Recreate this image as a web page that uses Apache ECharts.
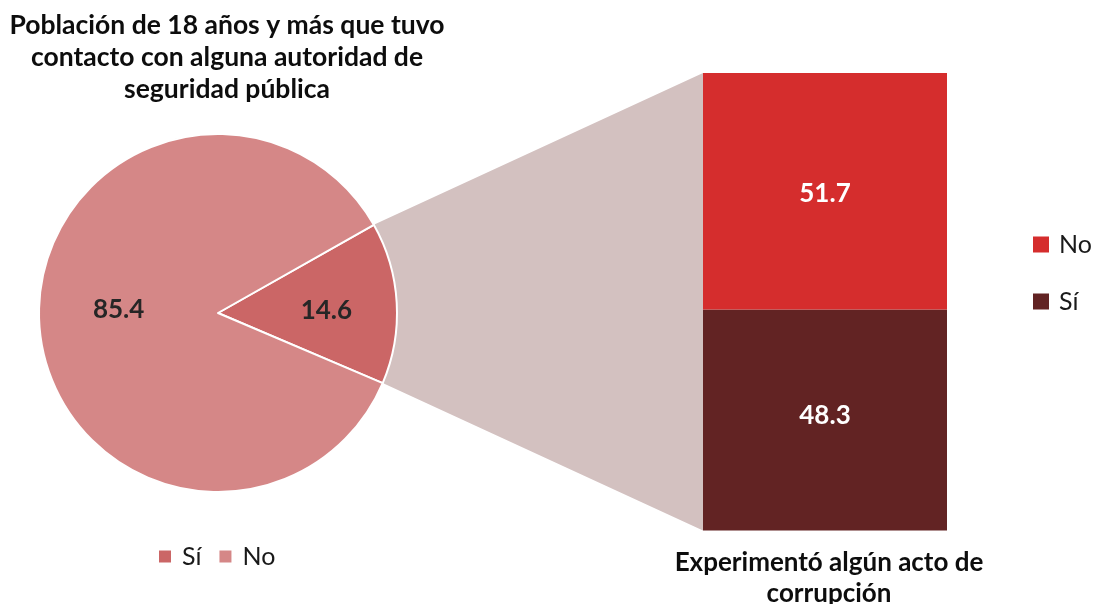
<!DOCTYPE html>
<html>
<head>
<meta charset="utf-8">
<script src="https://cdn.jsdelivr.net/npm/echarts@6/dist/echarts.min.js"></script>
<style>html,body{margin:0;padding:0;background:#fff}#c{width:1096px;height:604px}</style>
</head>
<body>
<div id="c"></div>
<script>
// Pie: población de 18 años y más que tuvo contacto con alguna autoridad
const pieNames = ['Sí', 'No'];
const pieValues = [14.6, 85.4];
// Bar: experimentó algún acto de corrupción (stack bottom to top)
const barNames = ['Sí', 'No'];
const barValues = [48.3, 51.7];
const barCategory = ['Experimentó'];

const pieColors = ['#CB6666', '#D58787'];
const barColors = ['#622323', '#D52D2D'];
const barLabelOffsets = [[0, -4], [0, 2]];
const FONT = 'Lato';

const chart = echarts.init(document.getElementById('c'), null, {renderer: 'canvas'});

const option = {
  animation: false,
  backgroundColor: '#fff',
  title: [
    {
      text: 'Población de 18 años y más que tuvo\ncontacto con alguna autoridad de\nseguridad pública',
      left: 227, top: 9, textAlign: 'center', padding: 0,
      textStyle: {fontFamily: FONT, fontWeight: 'bold', fontSize: 26.5, lineHeight: 32, color: '#0d0d0d'}
    },
    {
      text: 'Experimentó algún acto de\ncorrupción',
      left: 829, top: 547, textAlign: 'center', padding: 0,
      textStyle: {fontFamily: FONT, fontWeight: 'bold', fontSize: 26, lineHeight: 31, color: '#0d0d0d'}
    }
  ],
  legend: [
    {
      data: pieNames,
      left: 157, top: 544, padding: 0,
      orient: 'horizontal',
      icon: 'rect', itemWidth: 14, itemHeight: 14, itemGap: 16,
      selectedMode: false,
      textStyle: {fontFamily: FONT, fontSize: 25, color: '#1a1a1a', padding: [0, 0, 0, 5]}
    },
    {
      data: barNames.map(n => 'corr_' + n).reverse(),
      formatter: n => n.replace('corr_', ''),
      left: 1033, top: 232, padding: 0,
      orient: 'vertical',
      icon: 'rect', itemWidth: 16, itemHeight: 16, itemGap: 32,
      selectedMode: false,
      textStyle: {fontFamily: FONT, fontSize: 25, color: '#1a1a1a', padding: [0, 0, 0, 5]}
    }
  ],
  grid: {left: 703, right: 149, top: 73, bottom: 73.5, containLabel: false},
  xAxis: {type: 'category', data: barCategory, show: false},
  yAxis: {type: 'value', min: 0, max: 100, show: false},
  series: [
    {
      type: 'pie',
      name: 'contacto',
      center: [218, 313],
      radius: 179,
      startAngle: 29.5,
      clockwise: true,
      z: 3,
      data: pieNames.map((n, i) => ({name: n, value: pieValues[i], itemStyle: {color: pieColors[i]}})),
      itemStyle: {borderColor: '#fff', borderWidth: 2},
      label: {
        show: true, position: 'inner',
        formatter: p => p.value.toFixed(1),
        fontFamily: FONT, fontWeight: 'bold', fontSize: 26, color: '#262626'
      },
      labelLayout: p => p.dataIndex === 0 ? {dx: 8, dy: 1.5} : {dx: -3.5, dy: -4.5},
      labelLine: {show: false},
      emphasis: {disabled: true}
    },
    ...barNames.map((n, i) => ({
      type: 'bar',
      name: 'corr_' + n,
      stack: 'corr',
      barWidth: '100%',
      z: 3,
      data: [barValues[i]],
      itemStyle: {color: barColors[i]},
      label: {
        show: true, position: 'inside', offset: barLabelOffsets[i],
        formatter: p => p.value.toFixed(1),
        fontFamily: FONT, fontWeight: 'bold', fontSize: 26, color: '#ffffff'
      },
      emphasis: {disabled: true}
    }))
  ]
};

chart.setOption(option);

// Connector polygon derived from library layouts
const model = chart.getModel();
const pieData = model.getSeriesByIndex(0).getData();
const sl = pieData.getItemLayout(0);
const pA = [sl.cx + sl.r * Math.cos(sl.startAngle), sl.cy + sl.r * Math.sin(sl.startAngle)];
const pB = [sl.cx + sl.r * Math.cos(sl.endAngle), sl.cy + sl.r * Math.sin(sl.endAngle)];
const bTop = model.getSeriesByIndex(2).getData().getItemLayout(0);
const bBot = model.getSeriesByIndex(1).getData().getItemLayout(0);
const topY = Math.min(bTop.y, bTop.y + bTop.height);
const botY = Math.max(bBot.y, bBot.y + bBot.height);
const leftX = Math.min(bTop.x, bTop.x + bTop.width);
const up = pA[1] < pB[1] ? pA : pB;
const lo = pA[1] < pB[1] ? pB : pA;
chart.setOption({
  graphic: [{
    type: 'polygon', z: 1, silent: true,
    shape: {points: [up, [leftX, topY], [leftX, botY], lo, [sl.cx, sl.cy]]},
    style: {fill: '#D3C1C0'}
  }]
});
</script>
</body>
</html>
